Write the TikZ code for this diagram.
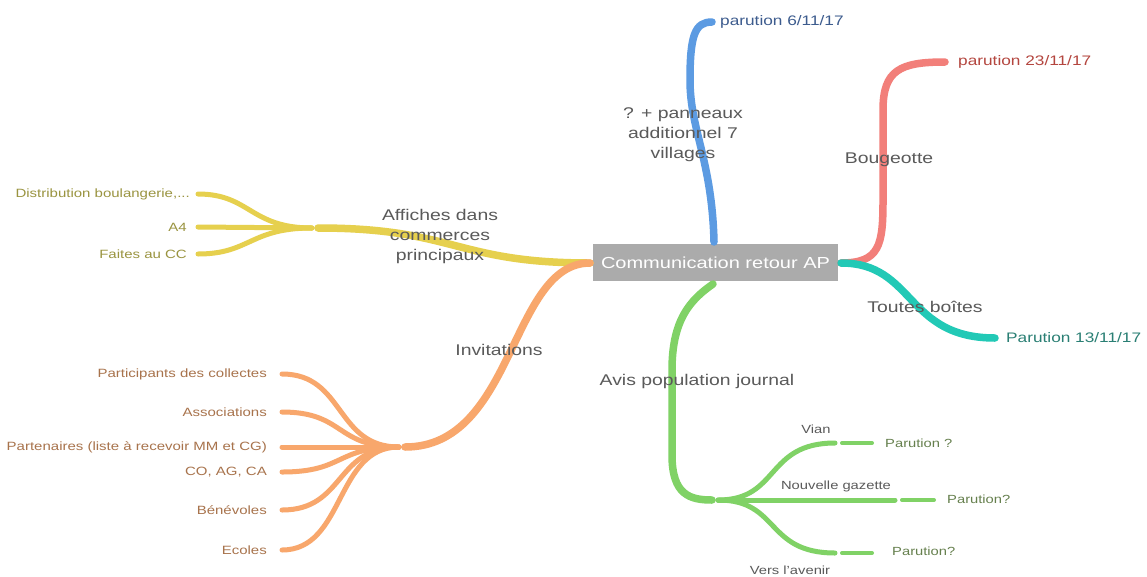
\documentclass[tikz,border=0pt]{standalone}
\usepackage{fontspec}
\setmainfont{Liberation Sans}[FakeStretch=1.25]
\definecolor{cyel}{HTML}{E6D04E}
\definecolor{cora}{HTML}{F8A76C}
\definecolor{cblu}{HTML}{5C9BE2}
\definecolor{cred}{HTML}{F27F7A}
\definecolor{ctea}{HTML}{22C9B6}
\definecolor{cgre}{HTML}{80D266}
\definecolor{lblgray}{HTML}{5A5A5A}
\definecolor{tyel}{HTML}{9A9440}
\definecolor{tora}{HTML}{A8734C}
\definecolor{tgre}{HTML}{66804E}
\definecolor{tblu}{HTML}{3D5C8E}
\definecolor{tred}{HTML}{B4463F}
\definecolor{ttea}{HTML}{2A7F74}
\definecolor{cbox}{HTML}{ABABAB}
\begin{document}
\begin{tikzpicture}[x=1pt,y=-1pt,
  lbl/.style={font=\fontsize{15.5}{20}\selectfont, text=lblgray, align=center, inner sep=0pt},
  leafbig/.style={font=\fontsize{13.8}{16}\selectfont, inner sep=0pt},
  leaf/.style={font=\fontsize{12}{14}\selectfont, inner sep=0pt},
  leafsm/.style={font=\fontsize{11.8}{13}\selectfont, inner sep=0pt},
  mainbr/.style={line width=7.5pt, line cap=round},
  subbr/.style={line width=5pt, line cap=round},
  tinybr/.style={line width=4pt, line cap=round}]
\useasboundingbox[fill=white] (0,0) rectangle (1147,576);

% central node
\node[fill=cbox, minimum width=245pt, minimum height=37pt, inner sep=0pt,
      text=white, font=\fontsize{16}{19}\selectfont] (c) at (715.5,262.5) {Communication retour AP};

% coordinates
\coordinate (cW) at (590,263);
\coordinate (cE) at (841,263);
\coordinate (cN) at (714,242);
\coordinate (cS) at (713,284);

\coordinate (yh) at (318,228);
\coordinate (oh) at (405,447);
\coordinate (gh) at (712,500);

\coordinate (bl) at (712,22);
\coordinate (rl) at (945,62);
\coordinate (tl) at (995,338);

\coordinate (y1) at (198,194);
\coordinate (y2) at (198,227);
\coordinate (y3) at (198,254);

\coordinate (o1) at (282,374);
\coordinate (o2) at (282,412);
\coordinate (o3) at (282,447);
\coordinate (o4) at (282,472);
\coordinate (o5) at (282,510);
\coordinate (o6) at (282,550);

\coordinate (g1) at (835,443);
\coordinate (g2) at (895,500);
\coordinate (g3) at (835,553);
\coordinate (g1b) at (842,443);
\coordinate (g2b) at (902,500);
\coordinate (g3b) at (842,553);
\coordinate (g1e) at (872,443);
\coordinate (g2e) at (934,500);
\coordinate (g3e) at (872,553);

% main branches
\draw[mainbr, cyel] (cW) .. controls (455,263) and (455,228) .. (yh);
\draw[mainbr, cora] (cW) .. controls (510,263) and (515,447) .. (oh);
\draw[mainbr, cblu] (cN) .. controls (712,160) and (690,130) .. (690,80) .. controls (690,35) and (695,22) .. (bl);
\draw[mainbr, cred] (cE) .. controls (880,263) and (883,245) .. (883,200) -- (883,110) .. controls (883,70) and (900,62) .. (rl);
\draw[mainbr, ctea] (cE) .. controls (915,263) and (905,338) .. (tl);
\draw[mainbr, cgre] (cS) .. controls (690,300) and (672,320) .. (672,370) -- (672,455) .. controls (672,495) and (690,500) .. (gh);

% yellow sub-branches
\draw[subbr, cyel] (312,228) .. controls (250,228) and (250,194) .. (y1);
\draw[subbr, cyel] (312,228) -- (y2);
\draw[subbr, cyel] (312,228) .. controls (250,228) and (250,254) .. (y3);

% orange sub-branches
\foreach \p in {o1,o2,o3,o4,o5,o6}{
  \draw[subbr, cora] (399,447) .. controls (335,447) and (345,447 |- \p) .. (\p);
}

% green sub-branches
\draw[subbr, cgre] (718,500) .. controls (780,500) and (765,443) .. (g1);
\draw[subbr, cgre] (718,500) -- (g2);
\draw[subbr, cgre] (718,500) .. controls (780,500) and (765,553) .. (g3);
\draw[tinybr, cgre] (g1b) -- (g1e);
\draw[tinybr, cgre] (g2b) -- (g2e);
\draw[tinybr, cgre] (g3b) -- (g3e);

% branch labels
\node[lbl] (ly) at (440,236) {Affiches dans\\commerces\\principaux};
\node[lbl] (lo) at (499,350) {Invitations};
\node[lbl] (lb) at (683,135) {? + panneaux\\additionnel 7\\villages};
\node[lbl] (lr) at (889,160) {Bougeotte};
\node[lbl] (lt) at (925,307) {Toutes boîtes};
\node[lbl] (lg) at (697,381) {Avis population journal};

% leaves top/right
\node[leafbig, text=tblu, anchor=west] (nb) at (720,22) {parution 6/11/17};
\node[leafbig, text=tred, anchor=west] (nr) at (958,62) {parution 23/11/17};
\node[leafbig, text=ttea, anchor=west] (nt) at (1006,338) {Parution 13/11/17};

% yellow leaves
\node[leaf, text=tyel, anchor=east] (ny1) at (190,194) {Distribution boulangerie,...};
\node[leaf, text=tyel, anchor=east] (ny2) at (187,227) {A4};
\node[leaf, text=tyel, anchor=east] (ny3) at (187,254) {Faites au CC};

% orange leaves
\node[leaf, text=tora, anchor=east] (no1) at (267,374) {Participants des collectes};
\node[leaf, text=tora, anchor=east] (no2) at (267,412) {Associations};
\node[leaf, text=tora, anchor=east] (no3) at (267,447) {Partenaires (liste à recevoir MM et CG)};
\node[leaf, text=tora, anchor=east] (no4) at (267,472) {CO, AG, CA};
\node[leaf, text=tora, anchor=east] (no5) at (267,510) {Bénévoles};
\node[leaf, text=tora, anchor=east] (no6) at (267,550) {Ecoles};

% green labels and leaves
\node[leafsm, text=lblgray] (gv) at (816,429) {Vian};
\node[leafsm, text=lblgray] (gn) at (836,486) {Nouvelle gazette};
\node[leafsm, text=lblgray] (ga) at (790,570) {Vers l'avenir};
\node[leafsm, text=tgre, anchor=west] (ng1) at (885,443) {Parution ?};
\node[leafsm, text=tgre, anchor=west] (ng2) at (947,499) {Parution?};
\node[leafsm, text=tgre, anchor=west] (ng3) at (892,551) {Parution?};
\end{tikzpicture}
\end{document}
